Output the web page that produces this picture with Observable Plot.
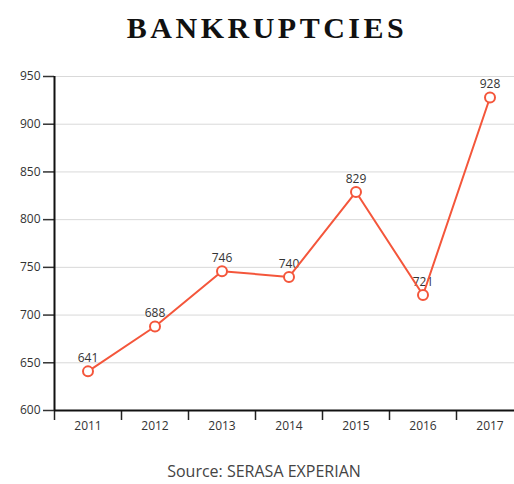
<!DOCTYPE html>
<html>
<head>
<meta charset="utf-8">
<script src="https://cdn.jsdelivr.net/npm/d3@7"></script>
<script src="https://cdn.jsdelivr.net/npm/@observablehq/plot@0.6"></script>
<style>
  html, body { margin: 0; padding: 0; background: #fff; }
  body { width: 514px; height: 484px; position: relative; overflow: hidden; }
  #title { position: absolute; left: 0; width: 514px; box-sizing: border-box; padding-left: 20px; top: 10px; text-align: center;
    font-family: "Liberation Serif", "DejaVu Serif", serif; font-weight: bold; font-size: 30px; color: #111; letter-spacing: 3.5px; line-height: 36px; }
  #chart { position: absolute; left: 0; top: 55px; }
  #caption { position: absolute; left: 0; width: 514px; box-sizing: border-box; padding-left: 14px; top: 463px; text-align: center;
    font-family: "Open Sans", sans-serif; font-size: 16px; line-height: 16px; color: #444; }
</style>
</head>
<body>
<div id="title">BANKRUPTCIES</div>
<div id="chart"></div>
<div id="caption">Source: SERASA EXPERIAN</div>
<script>
const years = [2011, 2012, 2013, 2014, 2015, 2016, 2017];
const bankruptcies = [641, 688, 746, 740, 829, 721, 928];
const yTicks = [600, 650, 700, 750, 800, 850, 900, 950];
const data = years.map((y, i) => ({year: y, value: bankruptcies[i]}));
const bounds = years.map(y => y - 0.5);
const lineColor = "#f4563b";

const chart = Plot.plot({
  width: 514,
  height: 390,
  marginTop: 21,
  marginBottom: 35,
  marginLeft: 54,
  marginRight: 0,
  style: {fontFamily: "'Open Sans', sans-serif", fontSize: "12px", color: "#333", background: "white"},
  x: {type: "linear", domain: [2010.5, 2017.5], range: [54, 523]},
  y: {domain: [600, 950]},
  marks: [
    Plot.gridY(yTicks, {stroke: "#d9d9d9", strokeOpacity: 1, strokeWidth: 1}),
    Plot.axisY(yTicks, {tickSize: 11, tickPadding: 3, fontSize: 12, fill: "#333", stroke: "#333", strokeWidth: 1.5, label: null}),
    Plot.axisX(bounds, {tickSize: 10, tickFormat: () => "", stroke: "#222", strokeWidth: 1.5, label: null}),
    Plot.axisX(years, {tickSize: 0, tickPadding: 11, tickFormat: d => String(d), fontSize: 12, fill: "#333", label: null}),
    Plot.ruleX([2010.5], {stroke: "#111", strokeWidth: 2}),
    Plot.ruleY([600], {stroke: "#111", strokeWidth: 2}),
    Plot.text(data, {x: "year", y: "value", text: d => String(d.value), dy: -13, fontSize: 12, fill: "#333"}),
    Plot.line(data, {x: "year", y: "value", stroke: lineColor, strokeWidth: 2}),
    Plot.dot(data, {x: "year", y: "value", r: 5, fill: "white", stroke: lineColor, strokeWidth: 2})
  ]
});
document.getElementById("chart").appendChild(chart);
</script>
</body>
</html>
